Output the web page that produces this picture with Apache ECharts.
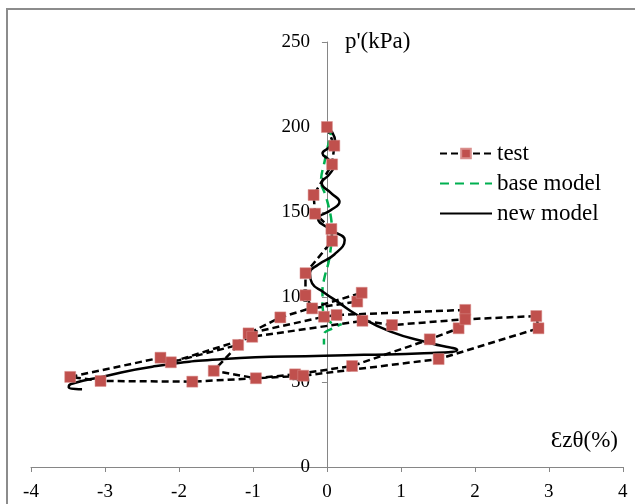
<!DOCTYPE html>
<html>
<head>
<meta charset="utf-8">
<script src="https://cdn.jsdelivr.net/npm/echarts@6/dist/echarts.min.js"></script>
<style>
  html, body { margin: 0; padding: 0; background: #fff; }
  #chart { width: 635px; height: 504px; }
</style>
</head>
<body>
<div id="chart"></div>
<script>
(function () {
    'use strict';

    // strain (%) / p' (kPa)
    var testStrain = [0, 0.10, 0.07, -0.18, -0.16, 0.06, 0.07, -0.29, -0.29, -0.20, 0.41, 0.47,
        -0.63, -1.06, -0.04, 0.13, 1.87, 1.78, 1.39, 0.34, -0.43, -0.96, -1.53, -1.20, -2.11,
        -1.01, 0.48, 0.88, 1.87, 2.83, 2.86, 1.51, -0.32, -1.82, -3.06, -3.47, -2.25];
    var testP = [200, 189, 178, 160, 149, 140, 133, 114, 101, 93.3, 97.3, 102.5,
        88, 78.6, 88.4, 89.4, 92.4, 81.6, 75.1, 59.4, 54.5, 52.2, 56.6, 71.8, 61.6,
        76.6, 86, 83.5, 86.9, 88.8, 81.6, 63.5, 53.7, 50.2, 50.6, 53, 64.3];

    var baseStrain = [0, 0.05, 0.02, -0.03, -0.08, -0.02, 0.03, 0.06, 0.07, 0.05, 0.02, -0.03,
        -0.06, -0.06, -0.04, 0.02, 0.15, 0.2, 0.1, -0.04, -0.04];
    var baseP = [200, 196, 190, 180, 168, 160, 152, 145, 137, 128, 120, 112,
        104, 96, 90, 86, 83.5, 84, 82, 78, 72];

    var newStrain = [0, 0.07, 0.11, 0.03, -0.06, 0.02, 0.10, 0.03, -0.07, 0.06, 0.17, 0.05,
        -0.12, 0.08, 0.24, 0.10, -0.12, -0.23, -0.20, -0.05, 0.15, 0.41, 0.86, 1.40, 1.76,
        1.31, 0.5, -0.04, -1.39, -2.36, -3.03, -3.46, -3.49, -3.31];
    var newP = [200, 197, 192, 188, 184.5, 181, 177.6, 172, 167, 161, 156, 151,
        146, 139, 133.5, 125, 119, 114, 108, 103, 97, 89.4, 79.6, 72.8, 68.8,
        66.9, 66, 65.5, 63.5, 59, 53.1, 48.8, 46.9, 45.7];

    var xTicks = [-4, -3, -2, -1, 0, 1, 2, 3, 4];
    var yTicks = [0, 50, 100, 150, 200, 250];

    function pairs(xs, ys) {
        return xs.map(function (x, i) { return [x, ys[i]]; });
    }

    var serif = '"Liberation Serif", "DejaVu Serif", serif';
    var axisGrey = '#868686';
    var gridLeft = 31, gridRight = 12;
    var xMin = xTicks[0];
    // a hair past the last tick so its label is not dropped as the "max label"
    var xMax = xTicks[xTicks.length - 1] + 0.002;
    // put the p' axis (with its labels) at strain = 0
    var plotW = 635 - gridLeft - gridRight;
    var yOffset = -plotW * (0 - xMin) / (xMax - xMin);

    var chart = echarts.init(document.getElementById('chart'));
    chart.setOption({
        animation: false,
        backgroundColor: '#fff',
        grid: { left: gridLeft, right: gridRight, top: 42, bottom: 37 },
        legend: {
            orient: 'vertical',
            left: 434,
            top: 137,
            itemWidth: 52,
            itemHeight: 12,
            itemGap: 7,
            textStyle: { fontFamily: serif, fontSize: 23, color: '#000', lineHeight: 22 },
            data: [
                { name: 'test' },
                { name: 'base model', itemStyle: { opacity: 0 } },
                { name: 'new model', itemStyle: { opacity: 0 } }
            ]
        },
        xAxis: {
            type: 'value',
            min: xMin,
            max: xMax,
            interval: 1,
            splitLine: { show: false },
            axisLine: { onZero: false, lineStyle: { color: axisGrey, width: 1 } },
            axisTick: { length: 5, lineStyle: { color: axisGrey } },
            axisLabel: {
                fontFamily: serif, fontSize: 19, color: '#000', margin: 16,
                showMinLabel: true, hideOverlap: false
            }
        },
        yAxis: {
            type: 'value',
            min: yTicks[0],
            max: yTicks[yTicks.length - 1],
            interval: 50,
            offset: yOffset,
            name: "p'(kPa)",
            nameLocation: 'end',
            nameGap: 0,
            nameTextStyle: {
                fontFamily: serif, fontSize: 23, color: '#000',
                align: 'left', verticalAlign: 'middle', padding: [0, 0, 0, 18]
            },
            splitLine: { show: false },
            axisLine: { onZero: false, lineStyle: { color: axisGrey, width: 1 } },
            axisTick: { length: 5, lineStyle: { color: axisGrey } },
            axisLabel: { fontFamily: serif, fontSize: 19, color: '#000', margin: 17 }
        },
        graphic: [{
            type: 'rect',
            shape: { x: 7, y: 9, width: 700, height: 600 },
            style: { fill: 'none', stroke: '#8c8c8c', lineWidth: 2 },
            silent: true
        }, {
            type: 'text',
            right: 17,
            top: 429,
            style: { text: 'Ɛzθ(%)', font: '23px ' + serif, fill: '#000' },
            silent: true
        }],
        series: [{
            name: 'test',
            type: 'line',
            z: 4,
            data: pairs(testStrain, testP),
            symbol: 'rect',
            symbolSize: 11,
            showSymbol: true,
            itemStyle: { color: '#C0504D', borderColor: '#d98e8c', borderWidth: 0.5 },
            lineStyle: { color: '#000', width: 2.5, type: [7, 4] }
        }, {
            name: 'base model',
            type: 'line',
            z: 2,
            data: pairs(baseStrain, baseP),
            smooth: 0.4,
            showSymbol: false,
            symbol: 'none',
            itemStyle: { color: '#00B050' },
            lineStyle: { color: '#00B050', width: 2.5, type: [9, 6] }
        }, {
            name: 'new model',
            type: 'line',
            z: 3,
            data: pairs(newStrain, newP),
            smooth: 0.5,
            showSymbol: false,
            symbol: 'none',
            itemStyle: { color: '#000' },
            lineStyle: { color: '#000', width: 2.5 }
        }]
    });
})();
</script>
</body>
</html>
